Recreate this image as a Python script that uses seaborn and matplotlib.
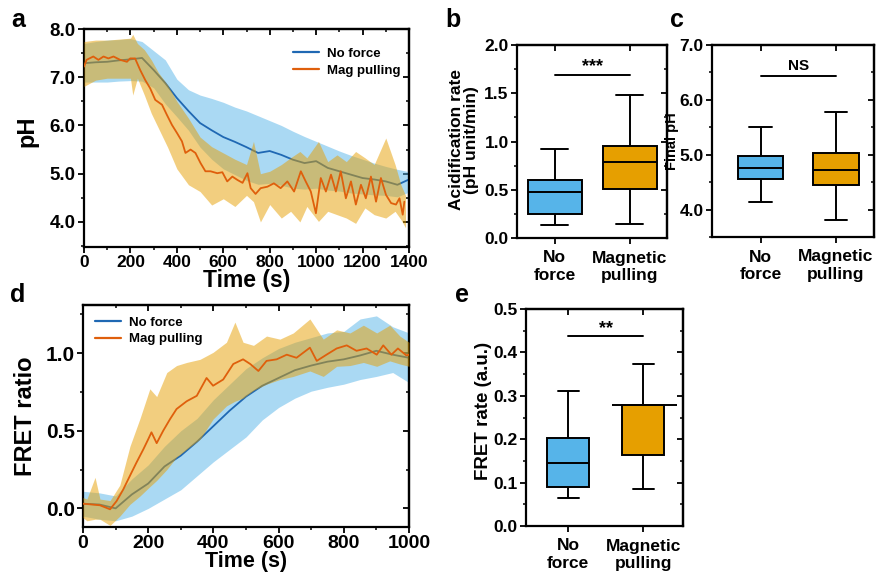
import numpy as np
import pandas as pd
import matplotlib
matplotlib.use("Agg")
import matplotlib.pyplot as plt
import seaborn as sns
from matplotlib.ticker import MultipleLocator, FormatStrFormatter, NullFormatter, FixedLocator
from matplotlib.lines import Line2D

# ---------------- data ----------------
# Panel a : pH vs time
a_nf_t = [0, 50, 100, 150, 200, 250, 300, 350, 400, 450, 500, 550, 600, 650, 700,
          750, 800, 850, 900, 950, 1000, 1050, 1100, 1150, 1200, 1250, 1300, 1350, 1400]
a_nf_mean = [7.29, 7.31, 7.32, 7.35, 7.37, 7.40, 7.15, 6.88, 6.57, 6.30, 6.05, 5.90, 5.76, 5.66, 5.55,
             5.43, 5.47, 5.39, 5.29, 5.22, 5.26, 5.12, 5.05, 4.98, 4.91, 4.88, 4.84, 4.77, 4.88]
a_nf_upper = [7.70, 7.74, 7.77, 7.78, 7.80, 7.74, 7.55, 7.36, 6.96, 6.74, 6.63, 6.56, 6.48, 6.38, 6.30,
              6.20, 6.10, 6.00, 5.88, 5.77, 5.67, 5.57, 5.47, 5.38, 5.30, 5.22, 5.15, 5.09, 5.04]
a_nf_lower = [6.90, 6.90, 6.90, 6.92, 6.93, 6.92, 6.78, 6.45, 6.18, 5.90, 5.55, 5.30, 5.10, 4.98, 4.86,
              4.78, 4.80, 4.76, 4.70, 4.68, 4.70, 4.66, 4.64, 4.60, 4.58, 4.56, 4.55, 4.52, 4.62]

a_mp_t = [0, 11, 40, 62, 84, 105, 127, 156, 185, 199, 220, 242, 264, 285, 307, 336, 357, 379, 401, 422,
          437, 459, 480, 502, 523, 545, 574, 596, 617, 639, 661, 683, 704, 718, 739, 761, 790, 818, 847, 876,
          905, 934, 955, 977, 999, 1020, 1042, 1064, 1085, 1106, 1128, 1150, 1171, 1193, 1214, 1236, 1258,
          1279, 1301, 1323, 1344, 1359, 1373, 1380]
a_mp_mean = [7.22, 7.36, 7.43, 7.36, 7.43, 7.39, 7.43, 7.36, 7.32, 7.39, 7.39, 7.15, 6.94, 6.77, 6.53, 6.43,
             6.22, 6.01, 5.84, 5.67, 5.43, 5.50, 5.43, 5.22, 5.05, 5.05, 5.01, 5.03, 4.84, 4.94, 4.87, 4.81,
             5.01, 4.70, 4.58, 4.70, 4.73, 4.80, 4.70, 4.84, 4.63, 5.05, 4.84, 4.63, 4.18, 4.91, 4.63, 4.98,
             4.63, 5.05, 4.49, 4.84, 4.36, 4.77, 4.49, 4.94, 4.42, 4.91, 4.56, 4.39, 4.36, 4.49, 4.15, 4.42]
a_mp_band_t = [0, 50, 100, 150, 200, 210, 230, 260, 290, 320, 360, 400, 450, 500, 550, 600, 650, 700,
               730, 760, 800, 850, 890, 930, 960, 1010, 1050, 1090, 1130, 1170, 1210, 1250, 1300, 1340,
               1365, 1385]
a_mp_upper = [7.74, 7.77, 7.77, 7.79, 7.81, 7.89, 7.70, 7.57, 7.36, 7.10, 6.84, 6.50, 6.15, 5.76, 5.56,
              5.43, 5.30, 5.19, 5.67, 5.00, 5.05, 5.19, 5.33, 5.46, 5.33, 5.67, 5.25, 5.39, 5.25, 5.46,
              5.33, 5.19, 5.74, 5.19, 4.77, 4.55]
a_mp_lower = [6.81, 6.94, 6.98, 6.98, 6.98, 6.63, 6.98, 6.63, 6.25, 5.95, 5.55, 5.10, 4.77, 4.63, 4.35,
              4.48, 4.32, 4.55, 4.42, 4.00, 4.36, 4.08, 4.22, 4.00, 4.32, 4.01, 4.22, 4.15, 4.08, 3.97,
              4.29, 4.15, 4.08, 4.22, 4.05, 3.88]

# Panel d : FRET ratio vs time
d_nf_t = [0, 50, 100, 150, 200, 250, 300, 350, 400, 450, 500, 550, 600, 650, 700, 750, 800, 850, 900,
          950, 1000]
d_nf_mean = [0.03, 0.025, 0.0, 0.09, 0.16, 0.27, 0.34, 0.43, 0.53, 0.63, 0.72, 0.79, 0.84, 0.89, 0.92,
             0.945, 0.96, 0.985, 1.015, 0.99, 0.97]
d_nf_upper = [0.11, 0.10, 0.08, 0.19, 0.28, 0.40, 0.50, 0.58, 0.70, 0.80, 0.90, 0.97, 1.03, 1.07, 1.10,
              1.13, 1.14, 1.22, 1.24, 1.17, 1.13]
d_nf_lower = [-0.05, -0.07, -0.08, -0.05, 0.0, 0.06, 0.12, 0.21, 0.30, 0.38, 0.46, 0.57, 0.65, 0.71,
              0.755, 0.78, 0.80, 0.83, 0.85, 0.875, 0.81]

d_mp_t = [0, 22, 52, 83, 103, 123, 144, 164, 185, 200, 210, 226, 246, 267, 287, 318, 349, 379, 399, 430,
          461, 491, 513, 538, 563, 594, 625, 655, 696, 717, 747, 778, 809, 839, 870, 901, 921, 946, 966,
          992, 1000]
d_mp_mean = [0.03, 0.026, 0.02, -0.006, 0.047, 0.12, 0.21, 0.295, 0.38, 0.445, 0.49, 0.42, 0.50, 0.575,
             0.64, 0.69, 0.725, 0.84, 0.79, 0.83, 0.93, 0.96, 0.93, 0.885, 0.95, 0.96, 0.99, 0.97, 1.035,
             0.95, 0.99, 1.03, 1.05, 1.015, 1.03, 0.99, 1.05, 0.99, 1.03, 0.985, 0.99]
d_mp_band_t = [0, 12, 37, 52, 83, 113, 144, 175, 205, 226, 257, 287, 318, 359, 399, 440, 466, 491, 523,
               563, 604, 645, 696, 737, 778, 819, 860, 901, 941, 972, 1000]
d_mp_upper = [0.07, 0.06, 0.20, 0.06, 0.05, 0.15, 0.40, 0.58, 0.77, 0.72, 0.875, 0.92, 0.94, 0.96,
              1.005, 1.07, 1.20, 1.07, 1.05, 1.11, 1.09, 1.13, 1.22, 1.09, 1.15, 1.13, 1.18, 1.13, 1.18,
              1.11, 1.07]
d_mp_lower = [-0.06, -0.08, -0.07, -0.07, -0.11, -0.05, 0.026, 0.08, 0.14, 0.18, 0.25, 0.33, 0.38,
              0.445, 0.575, 0.66, 0.69, 0.71, 0.76, 0.80, 0.83, 0.85, 0.885, 0.85, 0.915, 0.92, 0.94,
              0.915, 0.95, 0.93, 0.915]

# Box plot summaries: [min, Q1, median, Q3, max]
groups = ["No\nforce", "Magnetic\npulling"]
b_noforce = [0.13, 0.25, 0.48, 0.60, 0.92]
b_magnetic = [0.14, 0.51, 0.79, 0.95, 1.48]
c_noforce = [4.13, 4.55, 4.75, 4.97, 5.51]
c_magnetic = [3.81, 4.44, 4.72, 5.04, 5.78]
e_noforce = [0.065, 0.090, 0.146, 0.202, 0.310]
e_magnetic = [0.086, 0.164, 0.278, 0.278, 0.373]
b_sig, c_sig, e_sig = 1.69, 6.44, 0.438
b_sig_text, c_sig_text, e_sig_text = "***", "NS", "**"

series_labels = ["No force", "Mag pulling"]

# ---------------- style ----------------
sns.set_style("ticks")
plt.rcParams["font.family"] = ["Liberation Sans", "DejaVu Sans"]
plt.rcParams["font.weight"] = "bold"
plt.rcParams["axes.labelweight"] = "bold"
plt.rcParams["text.color"] = "black"
plt.rcParams["axes.labelcolor"] = "black"
plt.rcParams["xtick.color"] = "black"
plt.rcParams["ytick.color"] = "black"
plt.rcParams["axes.edgecolor"] = "black"

BLUE_LINE = "#1f68b3"
ORANGE_LINE = "#df5f0c"
BLUE_FILL = "#56B4E9"
ORANGE_FILL = "#E69F00"

fig = plt.figure(figsize=(8.77, 5.78), dpi=100)
W, H = 877, 578


def add_ax(l, r, t, b):
    return fig.add_axes([l / W, 1 - b / H, (r - l) / W, (b - t) / H])


def style(ax, ymaj, ymin, xmaj=None, xmin=None, cat_pos=None, xsize=11, ysize=11):
    for s in ax.spines.values():
        s.set_visible(True)
        s.set_linewidth(1.6)
        s.set_color("black")
    ax.yaxis.set_major_locator(MultipleLocator(ymaj))
    ax.yaxis.set_minor_locator(MultipleLocator(ymin))
    if cat_pos is None:
        ax.xaxis.set_major_locator(MultipleLocator(xmaj))
        ax.xaxis.set_minor_locator(MultipleLocator(xmin))
    ax.tick_params(which="major", direction="out", length=4, width=1.3, colors="black", pad=2)
    ax.tick_params(which="minor", direction="out", length=2.5, width=1.1, colors="black")
    ax.tick_params(axis="x", labelsize=xsize)
    ax.tick_params(axis="y", labelsize=ysize)
    top = ax.secondary_xaxis("top")
    right = ax.secondary_yaxis("right")
    if cat_pos is None:
        top.xaxis.set_major_locator(MultipleLocator(xmaj))
        top.xaxis.set_minor_locator(MultipleLocator(xmin))
    else:
        top.xaxis.set_major_locator(FixedLocator(cat_pos))
    right.yaxis.set_major_locator(MultipleLocator(ymaj))
    right.yaxis.set_minor_locator(MultipleLocator(ymin))
    top.xaxis.set_major_formatter(NullFormatter())
    right.yaxis.set_major_formatter(NullFormatter())
    for sec in (top, right):
        sec.tick_params(which="major", direction="in", length=4, width=1.3, colors="black")
        sec.tick_params(which="minor", direction="in", length=2.5, width=1.1, colors="black")
        for sp in sec.spines.values():
            sp.set_linewidth(1.6)
            sp.set_color("black")


handles = [Line2D([], [], color=BLUE_LINE, lw=1.6), Line2D([], [], color=ORANGE_LINE, lw=1.6)]


def time_panel(ax, nf_t, nf_mean, nf_lo, nf_hi, mp_t, mp_mean, mp_bt, mp_lo, mp_hi):
    ax.fill_between(nf_t, nf_lo, nf_hi, color=BLUE_FILL, alpha=0.5, linewidth=0, zorder=1)
    sns.lineplot(x=nf_t, y=nf_mean, color=BLUE_LINE, linewidth=1.3, ax=ax, zorder=2)
    ax.fill_between(mp_bt, mp_lo, mp_hi, color=ORANGE_FILL, alpha=0.5, linewidth=0, zorder=3)
    sns.lineplot(x=mp_t, y=mp_mean, color=ORANGE_LINE, linewidth=1.3, ax=ax, zorder=4)


# ---------------- panel a ----------------
ax = add_ax(84, 409, 29, 247)
time_panel(ax, a_nf_t, a_nf_mean, a_nf_lower, a_nf_upper,
           a_mp_t, a_mp_mean, a_mp_band_t, a_mp_lower, a_mp_upper)
ax.set_xlim(0, 1400)
ax.set_ylim(3.48, 8.0)
style(ax, 1.0, 0.5, 200, 100, xsize=12.5, ysize=13.5)
ax.yaxis.set_major_formatter(FormatStrFormatter("%.1f"))
ax.set_ylabel("pH", fontsize=17, fontweight="bold")
ax.yaxis.set_label_coords(-0.14, 0.53)
ax.set_xlabel("Time (s)", fontsize=16.5, fontweight="bold", labelpad=-1)
ax.legend(handles, series_labels, loc="upper right", bbox_to_anchor=(1.01, 0.97), frameon=False,
          prop={"weight": "bold", "size": 9.5}, handlelength=2.0, handletextpad=0.6, labelspacing=0.35)

# ---------------- panel d ----------------
ax = add_ax(83, 409, 305, 527)
time_panel(ax, d_nf_t, d_nf_mean, d_nf_lower, d_nf_upper,
           d_mp_t, d_mp_mean, d_mp_band_t, d_mp_lower, d_mp_upper)
ax.set_xlim(0, 1000)
ax.set_ylim(-0.12, 1.31)
style(ax, 0.5, 0.25, 200, 100, xsize=14, ysize=15)
ax.yaxis.set_major_formatter(FormatStrFormatter("%.1f"))
ax.set_ylabel("FRET ratio", fontsize=17, fontweight="bold")
ax.yaxis.set_label_coords(-0.14, 0.5)
ax.set_xlabel("Time (s)", fontsize=15.5, fontweight="bold", labelpad=-1)
ax.legend(handles, series_labels, loc="upper left", bbox_to_anchor=(0.0, 1.0), frameon=False,
          prop={"weight": "bold", "size": 9.5}, handlelength=2.0, handletextpad=0.6, labelspacing=0.3)


# ---------------- box panels ----------------
def box_panel(ax, nf, mg, width):
    df = pd.DataFrame({"group": [groups[0]] * len(nf) + [groups[1]] * len(mg),
                       "value": nf + mg})
    sns.boxplot(data=df, x="group", y="value", hue="group", order=groups, hue_order=groups,
                palette=[BLUE_FILL, ORANGE_FILL], saturation=1, whis=(0, 100), width=width,
                linecolor="black", linewidth=1.4, legend=False, ax=ax)
    ax.set_xlabel("")


def sig(ax, y, text, dy, fs):
    ax.plot([0, 1], [y, y], color="black", lw=1.4)
    ax.text(0.5, y + dy, text, ha="center", va="bottom", fontsize=fs, fontweight="bold")


# panel b
ax = add_ax(517, 667, 45, 238)
box_panel(ax, b_noforce, b_magnetic, 0.72)
ax.set_xlim(-0.5, 1.5)
ax.set_ylim(0, 2.0)
style(ax, 0.5, 0.25, cat_pos=[0, 1], xsize=12.5, ysize=12.5)
ax.yaxis.set_major_formatter(FormatStrFormatter("%.1f"))
ax.tick_params(axis="x", pad=5)
ax.set_ylabel("Acidification rate\n(pH unit/min)", fontsize=12.5, fontweight="bold", linespacing=1.0)
ax.yaxis.set_label_coords(-0.255, 0.51)
sig(ax, b_sig, b_sig_text, 0.0, 13)

# panel c
ax = add_ax(712, 874, 45, 237)
box_panel(ax, c_noforce, c_magnetic, 0.6)
ax.set_xlim(-0.645, 1.505)
ax.set_ylim(3.5, 7.0)
style(ax, 1.0, 0.5, cat_pos=[0, 1], xsize=12.5, ysize=12.5)
ax.yaxis.set_major_formatter(FormatStrFormatter("%.1f"))
ax.tick_params(axis="x", pad=5)
ax.set_ylabel("Final pH", fontsize=10.5, fontweight="bold")
ax.yaxis.set_label_coords(-0.205, 0.5)
sig(ax, c_sig, c_sig_text, 0.05, 11)

# panel e
ax = add_ax(526, 683, 309, 526)
box_panel(ax, e_noforce, e_magnetic, 0.56)
ax.hlines(e_magnetic[2], 1 - 0.42, 1 + 0.45, color="black", lw=1.4, zorder=5)
ax.set_xlim(-0.56, 1.53)
ax.set_ylim(0, 0.5)
style(ax, 0.1, 0.05, cat_pos=[0, 1], xsize=12.5, ysize=12.5)
ax.yaxis.set_major_formatter(FormatStrFormatter("%.1f"))
ax.tick_params(axis="x", pad=5)
ax.set_ylabel("FRET rate (a.u.)", fontsize=13.5, fontweight="bold")
ax.yaxis.set_label_coords(-0.215, 0.53)
sig(ax, e_sig, e_sig_text, -0.002, 13)

# panel letters
for lx, ly, letter in [(18, 20, "a"), (453, 20, "b"), (677, 20, "c"), (18, 295, "d"), (462, 295, "e")]:
    fig.text(lx / W, 1 - ly / H, letter, fontsize=18, fontweight="bold", ha="center", va="center",
             color="black")

fig.canvas.draw()
for a in fig.axes:
    for lab in a.get_xticklabels() + a.get_yticklabels():
        lab.set_fontweight("bold")
        lab.set_color("black")

fig.savefig("out.png", dpi=100)
